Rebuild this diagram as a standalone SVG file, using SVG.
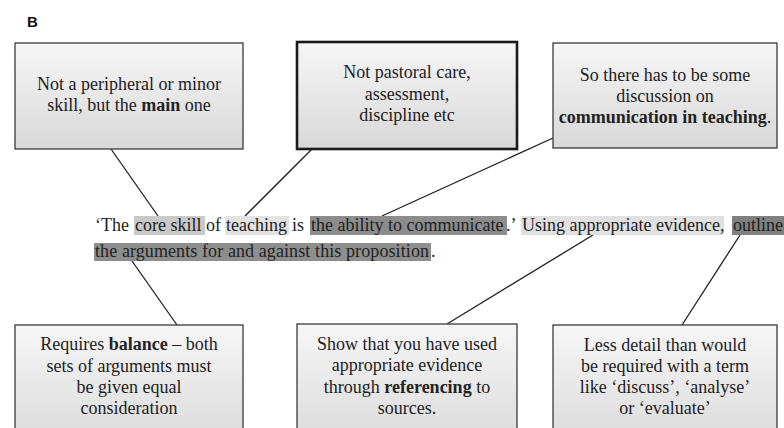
<svg xmlns="http://www.w3.org/2000/svg" width="784" height="428" viewBox="0 0 784 428">
<defs>
<linearGradient id="g" x1="0" y1="0" x2="0" y2="1">
<stop offset="0" stop-color="#f6f6f6"/>
<stop offset="1" stop-color="#d8d8d8"/>
</linearGradient>
<style>
.box{fill:url(#g);stroke:#3a3a3a;stroke-width:1.3}
.boxb{fill:url(#g);stroke:#1a1a1a;stroke-width:2.6}
.t{font-family:"Liberation Serif","Times New Roman",serif;font-size:18px;fill:#222;text-anchor:middle}
.s{font-family:"Liberation Serif","Times New Roman",serif;font-size:18px;fill:#222}
.b{font-weight:bold}
.ln{stroke:#1e1e1e;stroke-width:1.3;fill:none}
</style>
</defs>
<rect width="784" height="428" fill="#ffffff"/>
<text x="27" y="27" font-family="Liberation Sans, Arial, sans-serif" font-weight="bold" font-size="15" fill="#111">B</text>

<g id="connectors">
<line class="ln" x1="111" y1="149" x2="158" y2="216"/>
<line class="ln" x1="312" y1="149" x2="245" y2="216"/>
<line class="ln" x1="553" y1="138" x2="382" y2="216"/>
<line class="ln" x1="132" y1="261" x2="177" y2="325"/>
<line class="ln" x1="593" y1="235" x2="447" y2="324"/>
<line class="ln" x1="740" y1="235" x2="682" y2="325"/>
</g>

<g id="sentence">
<rect x="134" y="216" width="71" height="19" fill="#c8c8c8"/>
<rect x="225" y="216" width="64" height="19" fill="#e2e2e2"/>
<rect x="310" y="216" width="197" height="19" fill="#8c8c8c"/>
<rect x="521" y="216" width="203" height="19" fill="#e0e0e0"/>
<rect x="732" y="216" width="52" height="19" fill="#808080"/>
<rect x="94" y="243" width="337" height="18" fill="#8e8e8e"/>
<text class="s" y="231"><tspan x="95">‘The</tspan><tspan x="135">core skill</tspan><tspan x="206">of</tspan><tspan x="226">teaching</tspan><tspan x="292">is</tspan><tspan x="311">the ability to communicate</tspan><tspan x="506">.’</tspan><tspan x="522">Using appropriate evidence,</tspan><tspan x="733">outline</tspan></text>
<text class="s" y="257"><tspan x="95" textLength="334" lengthAdjust="spacing">the arguments for and against this proposition</tspan><tspan x="431">.</tspan></text>
</g>

<g id="n1">
<rect class="box" x="15" y="43" width="228" height="106"/>
<text class="t" x="129" y="90">Not a peripheral or minor</text>
<text class="t" x="129" y="111">skill, but the <tspan class="b">main</tspan> one</text>
</g>

<g id="n2">
<rect class="boxb" x="297" y="42" width="220" height="107"/>
<text class="t" x="407" y="78">Not pastoral care,</text>
<text class="t" x="407" y="99.5">assessment,</text>
<text class="t" x="407" y="121">discipline etc</text>
</g>

<g id="n3">
<rect class="box" x="553" y="43" width="224" height="105"/>
<text class="t" x="665" y="81">So there has to be some</text>
<text class="t" x="665" y="102">discussion on</text>
<text class="t" x="665" y="123"><tspan class="b">communication in teaching</tspan>.</text>
</g>

<g id="n4">
<rect class="box" x="15" y="325" width="228" height="130"/>
<text class="t" x="129" y="350">Requires <tspan class="b">balance</tspan> – both</text>
<text class="t" x="129" y="371.5">sets of arguments must</text>
<text class="t" x="129" y="393">be given equal</text>
<text class="t" x="129" y="414">consideration</text>
</g>

<g id="n5">
<rect class="box" x="297" y="324" width="220" height="131"/>
<text class="t" x="407" y="349.5">Show that you  have used</text>
<text class="t" x="407" y="371">appropriate evidence</text>
<text class="t" x="407" y="392.5">through <tspan class="b">referencing</tspan> to</text>
<text class="t" x="407" y="413.5">sources.</text>
</g>

<g id="n6">
<rect class="box" x="553" y="325" width="224" height="130"/>
<text class="t" x="665" y="350.5">Less detail than would</text>
<text class="t" x="665" y="372">be required with a term</text>
<text class="t" x="665" y="393">like ‘discuss’, ‘analyse’</text>
<text class="t" x="665" y="414">or ‘evaluate’</text>
</g>
</svg>
